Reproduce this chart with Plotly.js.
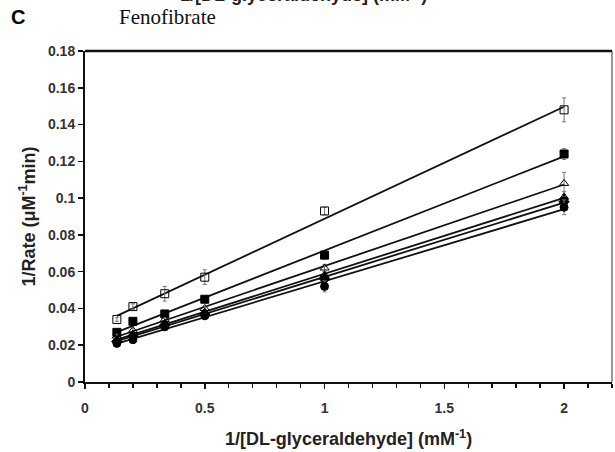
<!DOCTYPE html>
<html>
<head>
<meta charset="utf-8">
<script src="https://cdn.plot.ly/plotly-3.0.1.min.js"></script>
<style>html,body{margin:0;padding:0;background:#fff;}#chart{width:615px;height:452px;}</style>
</head>
<body>
<div id="chart"></div>
<script>
// Data
const xInv = [0.133, 0.2, 0.333, 0.5, 1, 2];
const openSquare   = [0.034, 0.041, 0.048, 0.057, 0.093, 0.148];
const openSquareErr= [0.001, 0.0015, 0.004, 0.004, 0.002, 0.0065];
const filledSquare = [0.027, 0.033, 0.037, 0.045, 0.069, 0.124];
const filledSquareErr=[0.001, 0.001, 0.001, 0.001, 0.002, 0.003];
const openTriangle = [0.025, 0.028, 0.034, 0.040, 0.062, 0.108];
const openTriangleErr=[0.001, 0.001, 0.001, 0.001, 0.002, 0.006];
const filledTriangle=[0.023, 0.026, 0.032, 0.038, 0.058, 0.1005];
const filledTriangleErr=[0.001, 0.001, 0.001, 0.001, 0.002, 0.003];
const filledDiamond= [0.022, 0.025, 0.031, 0.037, 0.056, 0.098];
const filledDiamondErr=[0.001, 0.001, 0.001, 0.001, 0.002, 0.003];
const filledCircle = [0.021, 0.023, 0.030, 0.036, 0.052, 0.095];
const filledCircleErr=[0.001, 0.001, 0.001, 0.001, 0.003, 0.004];
const yTickVals = [0, 0.02, 0.04, 0.06, 0.08, 0.1, 0.12, 0.14, 0.16, 0.18];
const yTickText = ["0", "0.02", "0.04", "0.06", "0.08", "0.1", "0.12", "0.14", "0.16", "0.18"];
const xTickVals = [0, 0.5, 1, 1.5, 2];
const xTickText = ["0", "0.5", "1", "1.5", "2"];

const series = [
  {y: openSquare, e: openSquareErr, symbol: 'square-open', size: 8},
  {y: filledSquare, e: filledSquareErr, symbol: 'square', size: 8},
  {y: openTriangle, e: openTriangleErr, symbol: 'triangle-up-open', size: 8},
  {y: filledTriangle, e: filledTriangleErr, symbol: 'triangle-up', size: 8},
  {y: filledDiamond, e: filledDiamondErr, symbol: 'diamond', size: 8},
  {y: filledCircle, e: filledCircleErr, symbol: 'circle', size: 8}
];

function fit(xs, ys) {
  const n = xs.length;
  let sx=0, sy=0, sxx=0, sxy=0;
  for (let i=0;i<n;i++){sx+=xs[i];sy+=ys[i];sxx+=xs[i]*xs[i];sxy+=xs[i]*ys[i];}
  const m = (n*sxy - sx*sy)/(n*sxx - sx*sx);
  const b = (sy - m*sx)/n;
  return [m,b];
}

const traces = [];
const xMin = Math.min(...xInv), xMax = Math.max(...xInv);
series.forEach(s => {
  const [m,b] = fit(xInv, s.y);
  traces.push({
    x: [xMin, xMax], y: [m*xMin+b, m*xMax+b],
    mode: 'lines', line: {color: '#111', width: 1.8},
    hoverinfo: 'skip', showlegend: false
  });
});
series.forEach(s => {
  traces.push({
    x: xInv, y: s.y, mode: 'markers',
    marker: {symbol: s.symbol, size: s.size, color: '#000', line: {color: '#000', width: 1}},
    error_y: {type: 'data', array: s.e, visible: true, color: '#777', thickness: 1, width: 2},
    showlegend: false
  });
});

const sans = 'Liberation Sans, Arial, sans-serif';
const layout = {
  width: 615, height: 452,
  margin: {l: 85, r: 3, t: 51, b: 70},
  paper_bgcolor: '#fff', plot_bgcolor: '#fff',
  showlegend: false,
  xaxis: {
    range: [0, 2.2], showgrid: false, zeroline: false,
    showline: true, linecolor: '#111', linewidth: 2,
    tickmode: 'array', tickvals: xTickVals, ticktext: xTickText,
    ticks: 'outside', ticklen: 5, tickwidth: 1.5, tickcolor: '#111',
    minor: {dtick: 0.1, tick0: 0, ticks: 'outside', ticklen: 4, tickwidth: 1.5, tickcolor: '#111', showgrid: false},
    tickfont: {family: sans, size: 14, color: '#333', weight: 'bold'},
    ticklabelstandoff: 7,
    title: {text: '1/[DL-glyceraldehyde] (mM<sup>-1</sup>)', font: {family: sans, size: 18, color: '#222', weight: 'bold'}, standoff: 18}
  },
  yaxis: {
    range: [0, 0.18], showgrid: false, zeroline: false,
    showline: true, linecolor: '#111', linewidth: 2,
    tickmode: 'array', tickvals: yTickVals, ticktext: yTickText,
    ticks: 'outside', ticklen: 5, tickwidth: 1.5, tickcolor: '#111',
    tickfont: {family: sans, size: 14, color: '#333', weight: 'bold'},
    title: {text: '1/Rate (μM<sup>-1</sup>min)', font: {family: sans, size: 18, color: '#222', weight: 'bold'}, standoff: 8}
  },
  shapes: [
    {type: 'line', xref: 'paper', yref: 'paper', x0: 0, x1: 1, y0: 1, y1: 1, line: {color: '#111', width: 2.5}},
    {type: 'line', xref: 'paper', yref: 'paper', x0: 1, x1: 1, y0: 0, y1: 1, line: {color: '#333', width: 1}}
  ],
  annotations: [
    {text: 'C', xref: 'paper', yref: 'paper', x: -0.145, y: 1.0, xanchor: 'left', yanchor: 'bottom', yshift: 21, showarrow: false,
     font: {family: sans, size: 20, color: '#000', weight: 'bold'}},
    {text: 'Fenofibrate', xref: 'paper', yref: 'paper', x: 0.06, y: 1.0, xanchor: 'left', yanchor: 'bottom', yshift: 20, showarrow: false,
     font: {family: 'Liberation Serif, Times New Roman, serif', size: 21, color: '#111'}},
    {text: '1/[DL-glyceraldehyde] (mM<sup>-1</sup>)', xref: 'paper', yref: 'paper', x: 0.415, y: 1.0, xanchor: 'center', yanchor: 'bottom', yshift: 44, showarrow: false,
     font: {family: sans, size: 18, color: '#222', weight: 'bold'}}
  ]
};

Plotly.newPlot('chart', traces, layout, {displayModeBar: false, staticPlot: true});
</script>
</body>
</html>
